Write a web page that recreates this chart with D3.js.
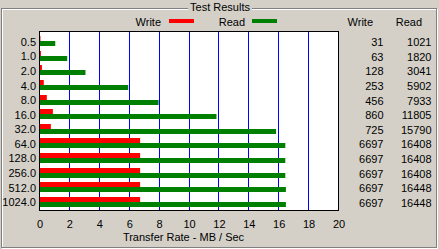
<!DOCTYPE html>
<html>
<head>
<meta charset="utf-8">
<script src="https://cdn.jsdelivr.net/npm/d3@7"></script>
<style>
  body { margin: 0; background: #d4d0c8; }
  svg text { font-family: "Liberation Sans", Arial, sans-serif; font-size: 11px; fill: #000; }
</style>
</head>
<body>
<div class="chart"></div>
<script>
// block sizes (KB) and measured rates (KB/sec)
var sizes = ["0.5", "1.0", "2.0", "4.0", "8.0", "16.0", "32.0", "64.0", "128.0", "256.0", "512.0", "1024.0"];
var writeRates = [31, 63, 128, 253, 456, 860, 725, 6697, 6697, 6697, 6697, 6697];
var readRates = [1021, 1820, 3041, 5902, 7933, 11805, 15790, 16408, 16408, 16408, 16448, 16448];
var xTicks = [0, 2, 4, 6, 8, 10, 12, 14, 16, 18, 20];

var width = 439, height = 249;
var grey = "#808080", white = "#ffffff";

var svg = d3.select(".chart")
  .append("svg")
    .attr("width", width)
    .attr("height", height);

svg.append("rect")
  .attr("width", width)
  .attr("height", height)
  .attr("fill", "#d4d0c8");

// etched group box
function etched(x1, y1, x2, y2) {
  svg.append("line").attr("x1", x1).attr("y1", y1).attr("x2", x2).attr("y2", y2)
    .attr("stroke", grey);
  svg.append("line").attr("x1", x1 + 1).attr("y1", y1 + 1).attr("x2", x2 + 1).attr("y2", y2 + 1)
    .attr("stroke", white);
}
etched(1, 8.5, 436, 8.5);
etched(1.5, 8, 1.5, 247);
etched(436.5, 8, 436.5, 247);
etched(1, 247.5, 437, 247.5);

svg.append("rect")
  .attr("x", 188).attr("y", 0).attr("width", 64).attr("height", 14)
  .attr("fill", "#d4d0c8");
svg.append("text")
  .attr("x", 220).attr("y", 10.5)
  .style("text-anchor", "middle")
  .text("Test Results");

var x = d3.scaleLinear().domain([0, 20]).range([39.5, 338.5]);
var y = d3.scaleBand().domain(sizes).range([34, 209]);

// plot area
svg.append("rect")
  .attr("x", 39.5).attr("y", 31.5)
  .attr("width", 299).attr("height", 179)
  .attr("fill", "#fff")
  .attr("stroke", "#000");

svg.selectAll(".grid")
  .data(xTicks.slice(1, -1))
  .enter().append("line")
    .attr("class", "grid")
    .attr("x1", function(d) { return Math.floor(x(d)) + 0.5; })
    .attr("x2", function(d) { return Math.floor(x(d)) + 0.5; })
    .attr("y1", 32).attr("y2", 210)
    .attr("stroke", "#0000ff");

var barH = 5;
function mid(d) { return Math.round(y(d) + y.bandwidth() / 2); }

svg.selectAll(".write")
  .data(sizes)
  .enter().append("rect")
    .attr("class", "write")
    .attr("x", x(0) + 0.5)
    .attr("y", function(d) { return mid(d) - barH; })
    .attr("width", function(d, i) { return x(writeRates[i] / 1000) - x(0); })
    .attr("height", barH)
    .attr("fill", "#ff0000");

svg.selectAll(".read")
  .data(sizes)
  .enter().append("rect")
    .attr("class", "read")
    .attr("x", x(0) + 0.5)
    .attr("y", function(d) { return mid(d); })
    .attr("width", function(d, i) { return x(readRates[i] / 1000) - x(0); })
    .attr("height", barH)
    .attr("fill", "#008000");

// axes
var xAxis = svg.append("g")
  .attr("transform", "translate(0,217)")
  .call(d3.axisBottom(x).tickValues(xTicks).tickSize(0).tickFormat(d3.format("d")));
xAxis.select(".domain").remove();
xAxis.selectAll("text").style("font-family", null).style("font-size", null);

var yAxis = svg.append("g")
  .attr("transform", "translate(36,1)")
  .call(d3.axisLeft(y).tickSize(0).tickPadding(0));
yAxis.select(".domain").remove();
yAxis.selectAll("text").style("font-family", null).style("font-size", null);

svg.append("text")
  .attr("x", 183.5).attr("y", 241)
  .style("text-anchor", "middle")
  .text("Transfer Rate - MB / Sec");

// legend
svg.append("text").attr("x", 161).attr("y", 25.5).style("text-anchor", "end").text("Write");
svg.append("rect").attr("x", 169).attr("y", 19).attr("width", 25).attr("height", 4).attr("fill", "#ff0000");
svg.append("text").attr("x", 245).attr("y", 25.5).style("text-anchor", "end").text("Read");
svg.append("rect").attr("x", 252).attr("y", 19).attr("width", 25).attr("height", 4).attr("fill", "#008000");

// table of values
svg.append("text").attr("x", 373).attr("y", 25.5).style("text-anchor", "end").text("Write");
svg.append("text").attr("x", 422).attr("y", 25.5).style("text-anchor", "end").text("Read");

svg.selectAll(".wval")
  .data(writeRates)
  .enter().append("text")
    .attr("class", "wval")
    .attr("x", 383.5)
    .attr("y", function(d, i) { return mid(sizes[i]) + 5; })
    .style("text-anchor", "end")
    .text(function(d) { return d; });

svg.selectAll(".rval")
  .data(readRates)
  .enter().append("text")
    .attr("class", "rval")
    .attr("x", 431.5)
    .attr("y", function(d, i) { return mid(sizes[i]) + 5; })
    .style("text-anchor", "end")
    .text(function(d) { return d; });
</script>
</body>
</html>
